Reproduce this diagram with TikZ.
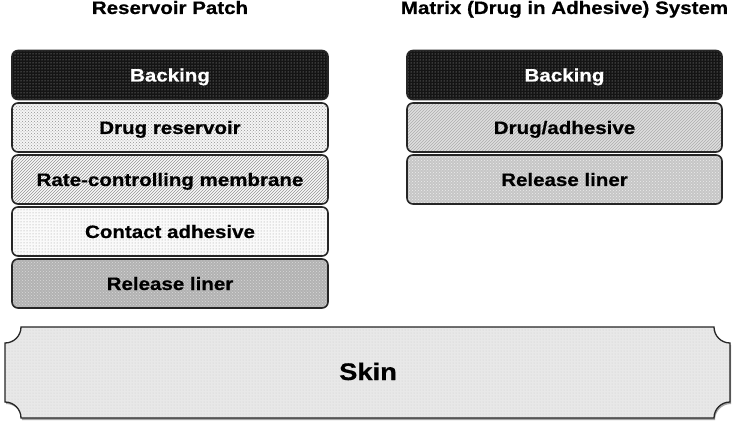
\documentclass[tikz,border=0pt]{standalone}
\usepackage{fontspec}
\newfontfamily\lab{Liberation Sans}[FakeStretch=1.14, FakeBold=0.6]
\usetikzlibrary{patterns}
\begin{document}
\begin{tikzpicture}[x=1pt,y=1pt,
  layer/.style={draw=black!85, line width=1.6pt, rounded corners=6pt,
    minimum width=316pt, minimum height=49pt, inner sep=0pt,
    text height=13pt, text depth=0pt,
    font=\lab\bfseries\fontsize{18}{20}\selectfont},
  title/.style={inner sep=0pt, anchor=base, font=\lab\bfseries\fontsize{18}{20}\selectfont},
  backing/.style={layer, preaction={fill=black!92}, pattern=dots, pattern color=gray!60, text=white},
  reservoir/.style={layer, preaction={fill=gray!8}, pattern=crosshatch dots, pattern color=gray!85},
  membrane/.style={layer, preaction={fill=gray!5}, pattern=north east lines, pattern color=gray!85},
  contact/.style={layer, preaction={fill=gray!4}, pattern=dots, pattern color=gray!80},
  liner/.style={layer, preaction={fill=gray!60}, pattern=crosshatch dots, pattern color=gray!30},
  drugadh/.style={layer, preaction={fill=gray!25}, pattern=north east lines, pattern color=gray!65},
  linerb/.style={layer, preaction={fill=gray!45}, pattern=crosshatch dots, pattern color=gray!15},
]
\useasboundingbox (0,0) rectangle (735,423);
\fill[white] (0,0) rectangle (735,423);

% titles
\node[title] (t1) at (170,409) {Reservoir Patch};
\node[title] (t2) at (564.5,409) {Matrix (Drug in Adhesive) System};

% reservoir patch layers
\node[backing]   (rb) at (170,348)   {Backing};
\node[reservoir] (rr) at (170,295.5) {Drug reservoir};
\node[membrane]  (rm) at (170,243.5) {Rate-controlling membrane};
\node[contact]   (rc) at (170,191.5) {Contact adhesive};
\node[liner]     (rl) at (170,139.5) {Release liner};

% matrix system layers
\node[backing, minimum width=315pt] (mb) at (564.5,348)   {Backing};
\node[drugadh, minimum width=315pt] (md) at (564.5,295.5) {Drug/adhesive};
\node[linerb,  minimum width=315pt] (ml) at (564.5,243.5) {Release liner};

% skin
\def\skinpath{(21,96) -- (714,96) arc[start angle=180, end angle=270, radius=16]
  -- (730,21) arc[start angle=90, end angle=180, radius=16]
  -- (21,5) arc[start angle=0, end angle=90, radius=16]
  -- (5,80) arc[start angle=-90, end angle=0, radius=16] -- cycle}
\fill[gray!70, shift={(1pt,-2pt)}] \skinpath;
\fill[gray!18] \skinpath;
\path[pattern=dots, pattern color=gray!40] \skinpath;
\draw[black!85, line width=1.3pt] \skinpath;
\node[inner sep=0pt, text height=17pt, text depth=0pt,
  font=\lab\bfseries\fontsize{24}{28}\selectfont] (skin) at (368,51.5) {Skin};
\end{tikzpicture}
\end{document}
